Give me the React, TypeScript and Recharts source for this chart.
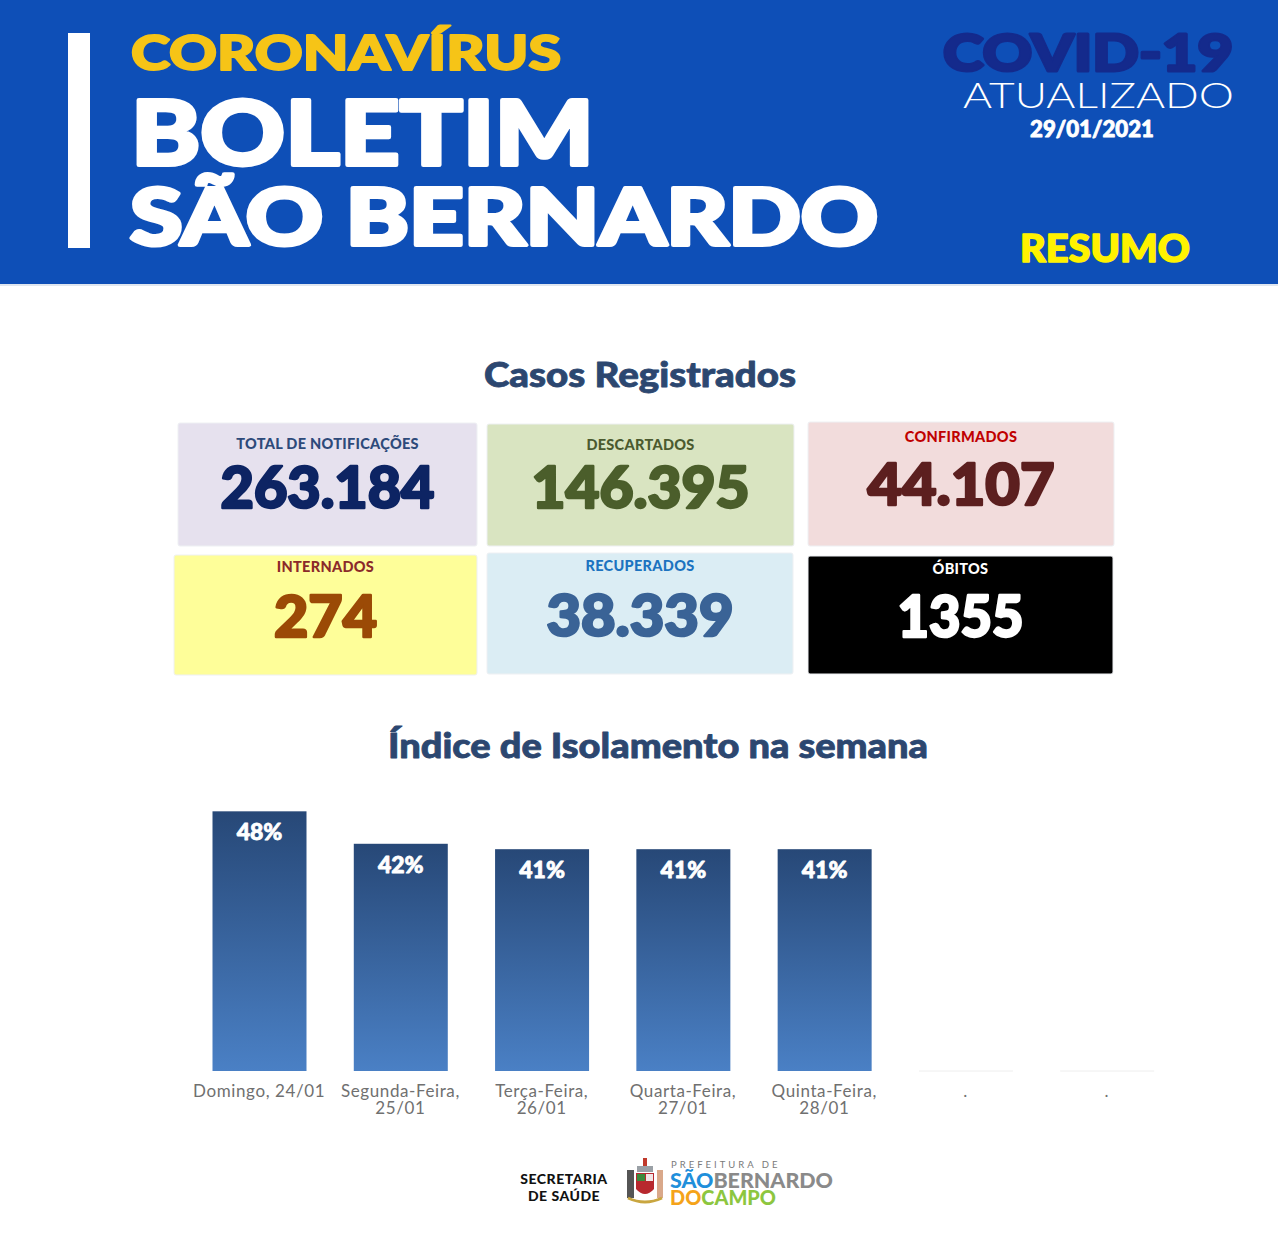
import { BarChart, Bar, XAxis, YAxis, LabelList } from 'recharts'

// isolation index for the week
const days = [
  'Domingo, 24/01',
  'Segunda-Feira,|25/01',
  'Terça-Feira,|26/01',
  'Quarta-Feira,|27/01',
  'Quinta-Feira,|28/01',
  '.',
  '.',
]
const isolation = [48, 42, 41, 41, 41, 0, 0]
const yTicks = [0, 10, 20, 30, 40, 50]

// summary cards
const cardTitles = ['TOTAL DE NOTIFICAÇÕES', 'DESCARTADOS', 'CONFIRMADOS', 'INTERNADOS', 'RECUPERADOS', 'ÓBITOS']
const cardValues = ['263.184', '146.395', '44.107', '274', '38.339', '1355']

const chartData = days.map((d, i) => ({ day: d, value: isolation[i] }))

const HEAVY = 'Lato, "Open Sans", sans-serif'

// thicken Lato to look closer to a black weight
const fat = (color: string, w: number) => ({
  stroke: color,
  strokeWidth: w,
  strokeLinejoin: 'round' as const,
  paintOrder: 'stroke' as const,
})

const cardStyle = [
  { x: 178, y: 423, w: 299, h: 123, bg: '#e6e1ee', tc: '#2e4a7a', vc: '#0d2463', ty: 449, vy: 508, vw: 214 },
  { x: 487, y: 424, w: 307, h: 122, bg: '#d9e4c1', tc: '#4b5a2f', vc: '#4b5e2b', ty: 450, vy: 508, vw: 218 },
  { x: 808, y: 422, w: 306, h: 124, bg: '#f2dcdc', tc: '#c00000', vc: '#5c1f1f', ty: 442, vy: 505, vw: 187 },
  { x: 174, y: 555, w: 303, h: 120, bg: '#fefe99', tc: '#8b2a2a', vc: '#9b4a06', ty: 572, vy: 637, vw: 103 },
  { x: 487, y: 553, w: 306, h: 121, bg: '#dbedf4', tc: '#1c73c0', vc: '#3a6396', ty: 571, vy: 636, vw: 187 },
  { x: 808, y: 556, w: 305, h: 118, bg: '#000000', tc: '#ffffff', vc: '#ffffff', ty: 574, vy: 637, vw: 126 },
]

function DayTick({ x, y, payload }: any) {
  const lines = String(payload.value).split('|')
  return (
    <text x={x} y={y} textAnchor="middle" fill="#707070" fontSize={17} fontFamily='Lato, sans-serif' letterSpacing={0.6}>
      {lines.map((l, i) => (
        <tspan key={i} x={x} dy={i === 0 ? 18 : 17}>{l}</tspan>
      ))}
    </text>
  )
}

function IsoBar({ x, y, width, height }: any) {
  if (!height) {
    return <line x1={x} x2={x + width} y1={y} y2={y} stroke="#eeeeee" strokeWidth={1} />
  }
  return <rect x={x} y={y} width={width} height={height} fill="url(#isoGrad)" />
}

function PctLabel({ x, y, width, value }: any) {
  if (!value) return null
  return (
    <text x={x + width / 2} y={y + 29} textAnchor="middle" fill="#ffffff" fontSize={23} fontWeight={900} fontFamily={HEAVY} style={fat('#ffffff', 0.8)}>
      {value}%
    </text>
  )
}

function Header() {
  return (
    <svg width={1280} height={290} style={{ position: 'absolute', left: 0, top: 0 }}>
      <rect x={0} y={0} width={1278} height={284} fill="#0e4fb7" />
      <line x1={0} x2={1278} y1={285} y2={285} stroke="#dfe6ef" strokeWidth={2} />
      <rect x={68} y={33} width={22} height={215} fill="#ffffff" />
      <text x={131} y={70} fill="#f6c417" fontSize={48} fontWeight={900} fontFamily={HEAVY} textLength={430} lengthAdjust="spacingAndGlyphs" style={fat('#f6c417', 2)}>CORONAVÍRUS</text>
      <text x={131} y={165} fill="#ffffff" fontSize={90} fontWeight={900} fontFamily={HEAVY} textLength={463} lengthAdjust="spacingAndGlyphs" style={fat('#ffffff', 4)}>BOLETIM</text>
      <text x={130} y={245} fill="#ffffff" fontSize={78} fontWeight={900} fontFamily={HEAVY} textLength={748} lengthAdjust="spacingAndGlyphs" style={fat('#ffffff', 4)}>SÃO BERNARDO</text>
      <text x={943} y={71} fill="#142a8c" fontSize={52} fontWeight={900} fontFamily={HEAVY} textLength={290} lengthAdjust="spacingAndGlyphs" style={fat('#142a8c', 3)}>COVID-19</text>
      <text x={963} y={108} fill="#ffffff" fontSize={35} fontWeight={300} fontFamily={HEAVY} textLength={271} lengthAdjust="spacingAndGlyphs">ATUALIZADO</text>
      <text x={1030} y={137} fill="#ffffff" fontSize={22} fontWeight={900} fontFamily={HEAVY} textLength={124} lengthAdjust="spacingAndGlyphs" style={fat('#ffffff', 0.8)}>29/01/2021</text>
      <text x={1020} y={262} fill="#fff200" fontSize={37} fontWeight={900} fontFamily={HEAVY} textLength={170} lengthAdjust="spacingAndGlyphs" style={fat('#fff200', 1.5)}>RESUMO</text>
    </svg>
  )
}

function Cards() {
  return (
    <svg width={1280} height={800} style={{ position: 'absolute', left: 0, top: 0 }}>
      <text x={640} y={387} textAnchor="middle" fill="#2c4770" fontSize={34} fontWeight={900} fontFamily={HEAVY} textLength={312} lengthAdjust="spacingAndGlyphs" style={fat('#2c4770', 0.8)}>Casos Registrados</text>
      {cardStyle.map((c, i) => (
        <g key={i}>
          <rect x={c.x} y={c.y} width={c.w} height={c.h} fill={c.bg} rx={2} stroke="#eef0f3" strokeWidth={1} />
          <text x={c.x + c.w / 2} y={c.ty} textAnchor="middle" fill={c.tc} fontSize={14.5} fontWeight={900} fontFamily={HEAVY} letterSpacing={0.3}>
            {cardTitles[i]}
          </text>
          <text x={c.x + c.w / 2} y={c.vy} textAnchor="middle" fill={c.vc} fontSize={57} fontWeight={900} fontFamily={HEAVY} textLength={c.vw} lengthAdjust="spacingAndGlyphs" style={fat(c.vc, 2.5)}>
            {cardValues[i]}
          </text>
        </g>
      ))}
      <text x={658} y={758} textAnchor="middle" fill="#2c4770" fontSize={34} fontWeight={900} fontFamily={HEAVY} textLength={540} lengthAdjust="spacingAndGlyphs" style={fat('#2c4770', 0.8)}>Índice de Isolamento na semana</text>
    </svg>
  )
}

function Footer() {
  return (
    <svg width={1280} height={1244} style={{ position: 'absolute', left: 0, top: 0, pointerEvents: 'none' }}>
      <text x={564} y={1184} textAnchor="middle" fill="#111111" fontSize={14} fontWeight={900} fontFamily={HEAVY} letterSpacing={0.5}>SECRETARIA</text>
      <text x={564} y={1201} textAnchor="middle" fill="#111111" fontSize={14} fontWeight={900} fontFamily={HEAVY} letterSpacing={0.5}>DE SAÚDE</text>
      {/* brasão */}
      <g>
        <rect x={643} y={1158} width={4} height={10} fill="#c0392b" />
        <rect x={637} y={1166} width={16} height={6} fill="#9aa0a6" />
        <path d="M636 1173 h18 v16 q-9 10 -18 0 z" fill="#b8282e" />
        <rect x={637} y={1174} width={8} height={7} fill="#3c8a3c" />
        <rect x={646} y={1174} width={7} height={7} fill="#f1e6e6" />
        <rect x={627} y={1170} width={7} height={28} fill="#555555" />
        <rect x={657} y={1170} width={6} height={28} fill="#d9a88a" />
        <path d="M628 1198 q17 8 34 0" stroke="#c9a640" strokeWidth={3} fill="none" />
      </g>
      <text x={671} y={1168} fill="#7a7a7a" fontSize={9.5} fontFamily='Lato, sans-serif' letterSpacing={3}>PREFEITURA DE</text>
      <text x={670} y={1188} fontSize={20} fontWeight={900} fontFamily={HEAVY} textLength={163} lengthAdjust="spacingAndGlyphs">
        <tspan fill="#1f8fdb">SÃO</tspan>
        <tspan fill="#8a8a8a">BERNARDO</tspan>
      </text>
      <text x={670} y={1205} fontSize={20} fontWeight={900} fontFamily={HEAVY} textLength={106} lengthAdjust="spacingAndGlyphs">
        <tspan fill="#f5a31a">DO</tspan>
        <tspan fill="#8dc63f">CAMPO</tspan>
      </text>
    </svg>
  )
}

export default function App() {
  return (
    <div style={{ position: 'absolute', left: 0, top: 0, width: 1280, height: 1244, background: '#ffffff', overflow: 'hidden' }}>
      <Header />
      <Cards />
      <div style={{ position: 'absolute', left: 170, top: 790 }}>
        <BarChart width={1030} height={360} data={chartData} margin={{ top: 10.5, right: 22.5, bottom: 19, left: 18.5 }}>
          <defs>
            <linearGradient id="isoGrad" x1="0" y1="0" x2="0" y2="1">
              <stop offset="0%" stopColor="#274877" />
              <stop offset="100%" stopColor="#4a80c5" />
            </linearGradient>
          </defs>
          <XAxis dataKey="day" height={60} axisLine={false} tickLine={false} interval={0} tick={<DayTick />} />
          <YAxis hide domain={[0, 50]} ticks={yTicks} />
          <Bar dataKey="value" barSize={94} shape={<IsoBar />} isAnimationActive={false}>
            <LabelList dataKey="value" content={<PctLabel />} />
          </Bar>
        </BarChart>
      </div>
      <Footer />
    </div>
  )
}
